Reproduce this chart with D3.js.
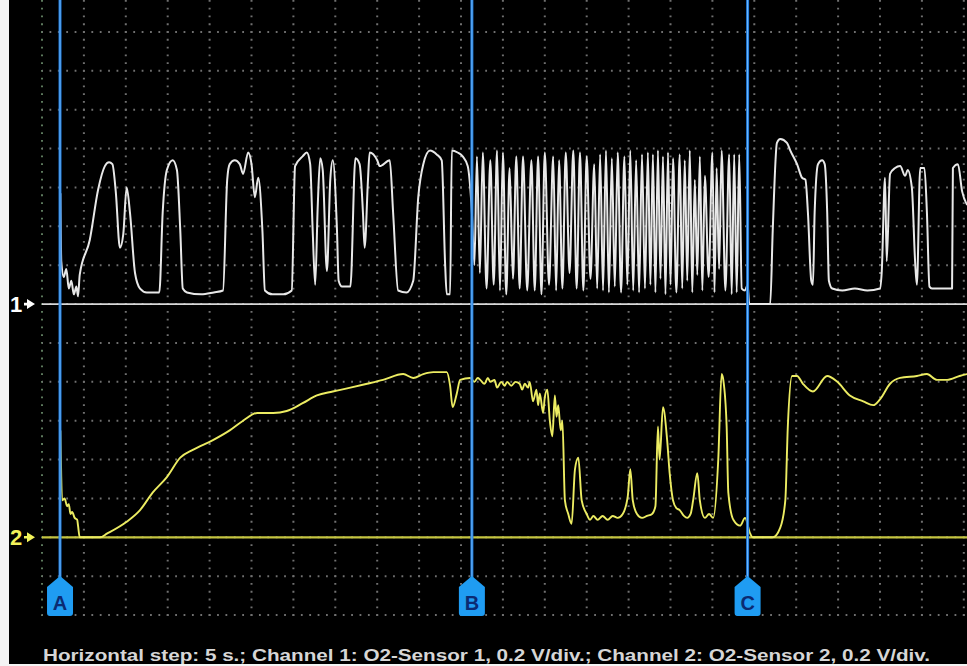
<!DOCTYPE html>
<html>
<head>
<meta charset="utf-8">
<script src="https://cdn.jsdelivr.net/npm/d3@7"></script>
<style>
  html, body { margin: 0; padding: 0; background: #000; }
  svg { display: block; }
</style>
</head>
<body>
<div id="chart"></div>
<script>
// Samples: [time in s, voltage in V]
// Channel 1 (O2-Sensor 1), slow switching before cursor B
const ch1Slow = [
  [2.2, 0.57], [2.3, 0.22], [2.6, 0.14], [2.9, 0.18], [3.2, 0.08], [3.5, 0.12], [3.8, 0.05], [4.1, 0.09],
  [4.3, 0.04], [4.5, 0.15], [5.7, 0.33], [6.7, 0.59], [7.5, 0.71], [8.0, 0.73], [8.4, 0.72], [8.8, 0.58],
  [9.3, 0.29], [9.7, 0.36], [10.1, 0.60], [10.5, 0.47], [11.1, 0.16], [11.7, 0.08], [12.5, 0.06], [14.0, 0.06],
  [14.4, 0.47], [14.9, 0.69], [15.6, 0.74], [16.1, 0.69], [16.5, 0.38], [16.8, 0.08], [17.3, 0.06], [19.0, 0.05],
  [20.5, 0.06], [21.6, 0.07], [22.1, 0.64], [22.4, 0.72], [23.0, 0.74], [23.6, 0.72], [24.0, 0.67], [24.6, 0.78],
  [25.0, 0.72], [25.4, 0.55], [25.8, 0.65], [26.3, 0.38], [26.6, 0.07], [27.5, 0.05], [28.8, 0.05], [29.8, 0.07],
  [30.2, 0.71], [31.1, 0.76], [31.6, 0.78], [32.0, 0.72], [32.3, 0.38], [32.6, 0.10], [32.9, 0.50], [33.2, 0.75],
  [33.5, 0.69], [34.0, 0.17], [34.4, 0.64], [34.7, 0.74], [35.2, 0.38], [35.4, 0.12], [35.8, 0.09], [36.8, 0.09],
  [37.4, 0.75], [37.9, 0.72], [38.3, 0.47], [38.5, 0.29], [38.9, 0.64], [39.1, 0.78], [40.0, 0.74], [40.3, 0.71],
  [41.5, 0.74], [41.9, 0.47], [42.5, 0.07], [43.5, 0.06], [44.3, 0.12], [44.9, 0.55], [45.5, 0.72], [46.3, 0.79],
  [47.1, 0.77], [47.7, 0.74], [48.1, 0.21], [48.3, 0.05], [48.7, 0.05], [48.9, 0.79], [49.6, 0.78], [50.2, 0.76],
  [50.8, 0.71], [51.3, 0.47], [51.6, 0.20],
];

// Channel 1, fast switching between cursors B and C (peak, trough, peak, ...)
const ch1Burst = [
  [51.9, 0.76], [52.25, 0.16], [52.6, 0.78], [53.05, 0.08], [53.5, 0.74], [53.9, 0.10], [54.3, 0.79], [54.65, 0.07],
  [55.0, 0.78], [55.4, 0.05], [55.8, 0.70], [56.2, 0.13], [56.6, 0.76], [57.0, 0.08], [57.4, 0.76], [57.9, 0.07],
  [58.4, 0.74], [58.8, 0.07], [59.2, 0.76], [59.6, 0.05], [60.0, 0.78], [60.5, 0.10], [61.0, 0.76], [61.35, 0.07],
  [61.7, 0.74], [62.1, 0.08], [62.5, 0.78], [62.95, 0.16], [63.4, 0.79], [63.8, 0.08], [64.2, 0.78], [64.6, 0.07],
  [65.0, 0.76], [65.45, 0.13], [65.9, 0.72], [66.25, 0.08], [66.6, 0.77], [66.95, 0.07], [67.3, 0.79], [67.65, 0.06],
  [68.0, 0.75], [68.35, 0.09], [68.7, 0.78], [69.1, 0.06], [69.5, 0.76], [69.85, 0.10], [70.2, 0.79], [70.55, 0.07],
  [70.9, 0.74], [71.25, 0.06], [71.6, 0.77], [71.95, 0.08], [72.3, 0.78], [72.6, 0.10], [72.9, 0.77], [73.2, 0.06],
  [73.5, 0.79], [73.8, 0.13], [74.1, 0.76], [74.4, 0.05], [74.7, 0.78], [75.0, 0.10], [75.3, 0.75], [75.7, 0.06],
  [76.1, 0.77], [76.4, 0.08], [76.7, 0.74], [77.0, 0.12], [77.3, 0.79], [77.6, 0.06], [77.9, 0.64], [78.2, 0.15],
  [78.5, 0.76], [78.8, 0.07], [79.1, 0.66], [79.55, 0.14], [80.0, 0.78], [80.25, 0.06], [80.5, 0.70], [80.8, 0.18],
  [81.1, 0.79], [81.55, 0.07], [82.0, 0.77], [82.3, 0.05], [82.6, 0.77], [82.9, 0.06], [83.2, 0.77], [83.5, 0.08],
];

// Channel 1 after cursor C
const ch1Tail = [
  [83.9, 0.07], [84.2, 0.10], [84.4, 0.00], [86.9, 0.00], [87.2, 0.38], [87.7, 0.83], [88.1, 0.85], [88.9, 0.83],
  [89.3, 0.79], [90.1, 0.72], [90.7, 0.65], [91.1, 0.64], [91.4, 0.47], [91.8, 0.12], [92.0, 0.10], [92.2, 0.47],
  [92.6, 0.72], [93.1, 0.74], [93.4, 0.72], [93.7, 0.47], [93.9, 0.12], [94.3, 0.08], [95.5, 0.07], [97.0, 0.08],
  [98.5, 0.07], [100.0, 0.08], [100.2, 0.16], [100.6, 0.65], [100.8, 0.22], [101.2, 0.67], [101.8, 0.70], [102.4, 0.71],
  [103.0, 0.66], [103.3, 0.69], [103.8, 0.60], [104.2, 0.21], [104.4, 0.10], [104.8, 0.70], [105.3, 0.70], [105.6, 0.47],
  [105.9, 0.09], [106.2, 0.08], [108.6, 0.08], [108.7, 0.70], [109.3, 0.72], [109.8, 0.58], [110.4, 0.51],
];

// Channel 2 (O2-Sensor 2)
const ch2Trace = [
  [2.2, 0.55], [2.4, 0.19], [2.7, 0.20], [3.0, 0.16], [3.2, 0.17], [3.4, 0.12], [3.6, 0.13], [3.9, 0.10],
  [4.2, 0.09], [4.3, 0.06], [4.5, 0.00], [6.9, 0.00], [7.8, 0.02], [10.1, 0.08], [11.7, 0.14], [13.2, 0.23],
  [14.9, 0.31], [16.5, 0.41], [18.0, 0.45], [20.4, 0.50], [22.4, 0.55], [24.0, 0.60], [25.7, 0.64], [27.6, 0.64],
  [29.2, 0.65], [31.1, 0.69], [32.8, 0.73], [34.7, 0.75], [36.8, 0.77], [38.8, 0.79], [40.7, 0.81], [43.1, 0.84],
  [44.3, 0.82], [45.5, 0.84], [46.7, 0.85], [48.3, 0.85], [48.7, 0.78], [49.0, 0.67], [49.5, 0.74], [49.9, 0.81],
  [51.1, 0.82], [51.6, 0.80], [52.0, 0.82], [52.3, 0.81], [52.8, 0.79], [53.2, 0.82], [53.5, 0.80], [54.0, 0.81],
  [54.3, 0.77], [54.8, 0.80], [55.2, 0.78], [55.5, 0.80], [56.0, 0.78], [56.5, 0.80], [57.0, 0.79], [57.3, 0.76],
  [57.6, 0.79], [58.0, 0.77], [58.2, 0.80], [58.6, 0.70], [59.0, 0.76], [59.2, 0.68], [59.4, 0.74], [59.8, 0.64],
  [60.0, 0.72], [60.3, 0.76], [60.6, 0.60], [60.9, 0.52], [61.2, 0.73], [61.4, 0.62], [61.6, 0.68], [61.9, 0.55],
  [62.1, 0.60], [62.4, 0.19], [62.8, 0.12], [63.2, 0.07], [63.6, 0.35], [64.0, 0.41], [64.4, 0.19], [65.0, 0.12],
  [65.4, 0.09], [65.8, 0.11], [66.3, 0.09], [66.9, 0.11], [67.5, 0.09], [68.1, 0.11], [68.7, 0.10], [69.3, 0.12],
  [69.9, 0.21], [70.2, 0.35], [70.5, 0.19], [71.0, 0.12], [71.6, 0.10], [72.2, 0.11], [72.8, 0.12], [73.2, 0.16],
  [73.5, 0.57], [73.7, 0.40], [74.1, 0.67], [74.6, 0.50], [74.9, 0.33], [75.3, 0.19], [75.7, 0.15], [76.1, 0.14],
  [76.6, 0.11], [77.0, 0.10], [77.4, 0.12], [77.7, 0.19], [78.2, 0.33], [78.5, 0.19], [79.1, 0.10], [79.6, 0.12],
  [80.1, 0.10], [80.7, 0.40], [81.1, 0.84], [81.3, 0.81], [81.7, 0.57], [81.9, 0.23], [82.5, 0.09], [83.3, 0.06],
  [83.9, 0.10], [84.5, 0.02], [84.8, 0.00], [87.2, 0.00], [88.1, 0.05], [88.7, 0.19], [89.0, 0.57], [89.5, 0.83],
  [90.1, 0.83], [90.8, 0.79], [92.0, 0.75], [93.7, 0.83], [94.9, 0.80], [96.4, 0.73], [98.0, 0.70], [99.2, 0.68],
  [100.0, 0.71], [101.2, 0.79], [102.4, 0.82], [104.4, 0.83], [105.6, 0.84], [106.8, 0.81], [108.0, 0.81], [109.5, 0.83],
  [110.4, 0.84],
];

// Time cursors (s)
const cursorNames = ['A', 'B', 'C'];
const cursorTimes = [2.15, 51.3, 84.2];

const footerText = 'Horizontal step: 5 s.; Channel 1: O2-Sensor 1, 0.2 V/div.; Channel 2: O2-Sensor 2, 0.2 V/div.';

const width = 967;
const height = 666;

// Screen grid: 5 s per horizontal division, 0.2 V per vertical division
const secPerDiv = 5;
const voltsPerDiv = 0.2;
const xDiv = 41.9;
const yDiv = 38.87;
const plotLeft = 42;
const gridTop = -6.87;
const gridRows = 16;
const ch1Row = 8; // channel 1 zero sits on grid row 8
const ch2Row = 14; // channel 2 zero sits on grid row 14

const x = d3.scaleLinear().domain([0, secPerDiv]).range([plotLeft, plotLeft + xDiv]);
const row = d3.scaleLinear().domain([0, 1]).range([gridTop, gridTop + yDiv]);
const y1 = d3.scaleLinear().domain([0, voltsPerDiv]).range([row(ch1Row), row(ch1Row) - yDiv]);
const y2 = d3.scaleLinear().domain([0, voltsPerDiv]).range([row(ch2Row), row(ch2Row) - yDiv]);
const gridBottom = row(gridRows);

const svg = d3.select('#chart').append('svg')
  .attr('width', width)
  .attr('height', height)
  .style('background', '#000');

// white frame strips from the original capture
svg.append('rect').attr('x', 0).attr('y', 0).attr('width', 9).attr('height', height).attr('fill', '#f4f4f4');
svg.append('rect').attr('x', 0).attr('y', height - 2).attr('width', width).attr('height', 2).attr('fill', '#f4f4f4');

// Dotted grid
const grid = svg.append('g').attr('class', 'grid');
const timeLines = d3.range(0, x.invert(width) + 0.01, secPerDiv);

grid.selectAll('line.v')
  .data(timeLines)
  .join('line')
  .attr('class', 'v')
  .attr('x1', (d) => x(d))
  .attr('x2', (d) => x(d))
  .attr('y1', 0)
  .attr('y2', gridBottom + 2)
  .attr('stroke', (d, i) => (i === 0 ? '#5d7a5d' : '#707070'))
  .attr('stroke-width', 2)
  .attr('stroke-dasharray', `1.8 ${yDiv / 5 - 1.8}`)
  .attr('stroke-dashoffset', -(gridTop % (yDiv / 5)) + 0.9);

grid.selectAll('line.h')
  .data(d3.range(1, gridRows + 1))
  .join('line')
  .attr('class', 'h')
  .attr('x1', plotLeft)
  .attr('x2', width)
  .attr('y1', (d) => row(d))
  .attr('y2', (d) => row(d))
  .attr('stroke', '#707070')
  .attr('stroke-width', 2)
  .attr('stroke-dasharray', `1.8 ${xDiv / 5 - 1.8}`)
  .attr('stroke-dashoffset', 0.9);

// Channel zero lines
svg.append('line')
  .attr('x1', plotLeft).attr('x2', width)
  .attr('y1', y1(0)).attr('y2', y1(0))
  .attr('stroke', '#d8d8d8')
  .attr('stroke-width', 1.6);

svg.append('line')
  .attr('x1', plotLeft).attr('x2', width)
  .attr('y1', y2(0)).attr('y2', y2(0))
  .attr('stroke', '#c4c440')
  .attr('stroke-width', 2.2);

// Channel markers "1▸" and "2▸"
const markers = [
  { label: '1', y: y1(0), color: '#ffffff' },
  { label: '2', y: y2(0), color: '#f2f25a' },
];
const marker = svg.selectAll('g.marker')
  .data(markers)
  .join('g')
  .attr('class', 'marker')
  .attr('transform', (d) => `translate(0,${d.y})`);

marker.append('text')
  .attr('x', 10)
  .attr('y', 8)
  .attr('fill', (d) => d.color)
  .style('font', 'bold 22px "Liberation Sans", Arial, sans-serif')
  .text((d) => d.label);

marker.append('path')
  .attr('d', 'M24,-1.3 H27 V-5 L35,0 L27,5 V1.3 H24 Z')
  .attr('fill', (d) => d.color);

// Traces
const line1 = d3.line().x((d) => x(d[0])).y((d) => y1(d[1])).curve(d3.curveMonotoneX);
const line2 = d3.line().x((d) => x(d[0])).y((d) => y2(d[1])).curve(d3.curveMonotoneX);

svg.append('path')
  .datum(ch2Trace)
  .attr('d', line2)
  .attr('fill', 'none')
  .attr('stroke', '#ecec62')
  .attr('stroke-width', 1.9)
  .attr('stroke-linejoin', 'round');

svg.append('path')
  .datum([...ch1Slow, ...ch1Burst, ...ch1Tail])
  .attr('d', line1)
  .attr('fill', 'none')
  .attr('stroke', '#e8e8e8')
  .attr('stroke-width', 2)
  .attr('stroke-linejoin', 'round');

// Cursors with their tags
const tagTop = 576;
const tagBottom = 616;
const cursor = svg.selectAll('g.cursor')
  .data(cursorTimes)
  .join('g')
  .attr('class', 'cursor')
  .attr('transform', (d) => `translate(${x(d)},0)`);

cursor.append('line')
  .attr('y1', 0).attr('y2', tagTop + 2)
  .attr('stroke', '#1f78d8')
  .attr('stroke-width', 3);

cursor.append('line')
  .attr('y1', 0).attr('y2', tagTop + 2)
  .attr('stroke', '#72bcff')
  .attr('stroke-width', 1);

cursor.append('path')
  .attr('d', `M0,${tagTop} L13,${tagTop + 11} V${tagBottom - 3} Q13,${tagBottom} 10,${tagBottom} H-10 Q-13,${tagBottom} -13,${tagBottom - 3} V${tagTop + 11} Z`)
  .attr('fill', '#1f9cf2');

cursor.append('text')
  .attr('y', tagBottom - 6)
  .attr('text-anchor', 'middle')
  .attr('fill', '#0b2a72')
  .style('font', 'bold 20px "Liberation Sans", Arial, sans-serif')
  .text((d, i) => cursorNames[i]);

// Footer caption
svg.append('text')
  .attr('x', 43)
  .attr('y', 661)
  .attr('fill', '#d6d6d6')
  .attr('textLength', 887)
  .attr('lengthAdjust', 'spacingAndGlyphs')
  .style('font', 'bold 17px "Liberation Sans", Arial, sans-serif')
  .text(footerText);
</script>
</body>
</html>
